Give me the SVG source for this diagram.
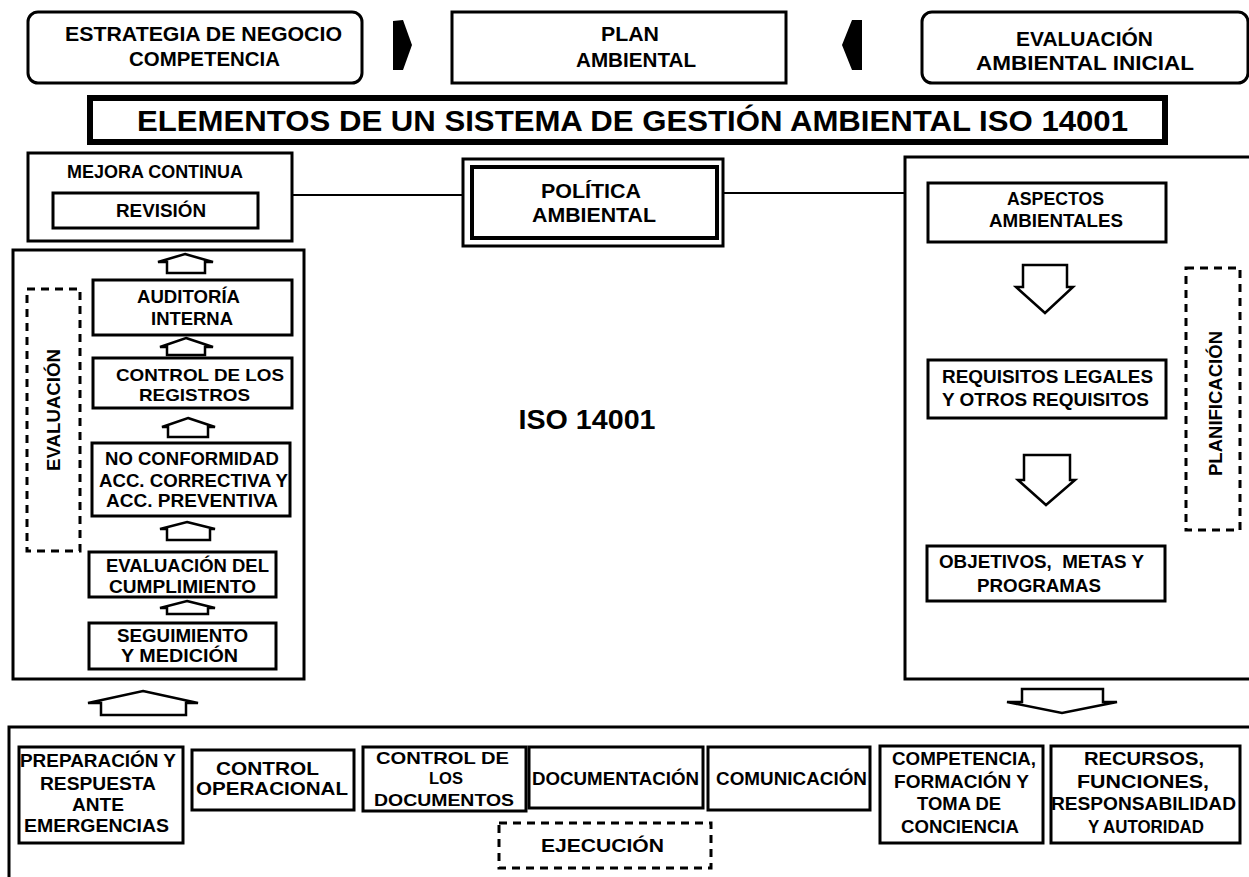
<svg xmlns="http://www.w3.org/2000/svg" width="1249" height="877" viewBox="0 0 1249 877">
<style>
.b{fill:#fff;stroke:#000;stroke-width:3}
.tb{fill:none;stroke:#000;stroke-width:6}
.d{fill:none;stroke:#000;stroke-width:3;stroke-dasharray:8 6}
.t{font-family:"Liberation Sans",Arial,sans-serif;font-weight:bold;font-size:17.5px;text-anchor:middle;fill:#000}
.tl{font-size:19.5px}
.arr{fill:#fff;stroke:#000;stroke-width:2.5;stroke-linejoin:miter}
.ln{stroke:#000;stroke-width:2;fill:none}
</style>
<rect width="1249" height="877" fill="#fff"/>

<g id="containers">
  <rect id="mejora-continua" class="b" x="28" y="153" width="264" height="88"/>
  <rect id="evaluacion-panel" class="b" x="13" y="250" width="291" height="429"/>
  <rect id="planificacion-panel" class="b" x="905" y="157" width="400" height="522"/>
  <rect id="ejecucion-panel" class="b" x="9" y="727" width="1300" height="200"/>
</g>

<g id="connectors">
  <line class="ln" x1="292" y1="195" x2="463" y2="195"/>
  <line class="ln" x1="723" y1="193" x2="905" y2="193"/>
  <path d="M393,21 L403,20 L412,45 L403,70 L393,70 Z" fill="#000"/>
  <path d="M862,20 L852,20 L842,45 L852,70 L862,70 Z" fill="#000"/>
  <path class="arr" d="M185,254 L213,262 L205,262 L205,273 L167,273 L167,262 L158,262 Z"/>
  <path class="arr" d="M186,338 L213,347 L205,347 L205,355 L167,355 L167,347 L160,347 Z"/>
  <path class="arr" d="M188,418 L215,427 L208,427 L208,437 L168,437 L168,427 L162,427 Z"/>
  <path class="arr" d="M187,522 L215,529 L210,529 L210,540 L167,540 L167,529 L160,529 Z"/>
  <path class="arr" d="M187,601 L215,608 L208,608 L208,614 L167,614 L167,608 L160,608 Z"/>
  <path class="arr" d="M143,691 L198,703 L186,703 L186,715 L101,715 L101,703 L88,703 Z"/>
  <path class="arr" d="M1023,265 L1067,265 L1067,287 L1073,287 L1045,313 L1016,287 L1023,287 Z"/>
  <path class="arr" d="M1024,455 L1070,455 L1070,480 L1075,480 L1046,505 L1018,480 L1024,480 Z"/>
  <path class="arr" d="M1022,689 L1103,689 L1103,702 L1117,702 L1062,713 L1007,702 L1022,702 Z"/>
</g>

<g id="estrategia">
  <rect class="b" x="28" y="12" width="334" height="71" rx="10"/>
  <text class="t tl" x="203.5" y="41" textLength="277" lengthAdjust="spacingAndGlyphs">ESTRATEGIA DE NEGOCIO</text>
  <text class="t tl" x="204.5" y="66" textLength="151" lengthAdjust="spacingAndGlyphs">COMPETENCIA</text>
</g>
<g id="plan-ambiental">
  <rect class="b" x="452" y="12" width="334" height="71"/>
  <text class="t tl" x="630" y="41" textLength="58" lengthAdjust="spacingAndGlyphs">PLAN</text>
  <text class="t tl" x="636" y="67" textLength="120" lengthAdjust="spacingAndGlyphs">AMBIENTAL</text>
</g>
<g id="evaluacion-inicial">
  <rect class="b" x="922" y="12" width="326" height="71" rx="10"/>
  <text class="t tl" x="1084.5" y="46" textLength="137" lengthAdjust="spacingAndGlyphs">EVALUACIÓN</text>
  <text class="t tl" x="1085" y="70" textLength="218" lengthAdjust="spacingAndGlyphs">AMBIENTAL INICIAL</text>
</g>

<g id="titulo">
  <rect class="tb" x="90" y="98" width="1075" height="44"/>
  <text class="t" style="font-size:29px" x="632.5" y="131" textLength="991" lengthAdjust="spacingAndGlyphs">ELEMENTOS DE UN SISTEMA DE GESTIÓN AMBIENTAL ISO 14001</text>
</g>

<g id="mejora-label">
  <text class="t" x="155" y="178" textLength="176" lengthAdjust="spacingAndGlyphs">MEJORA CONTINUA</text>
</g>
<g id="revision">
  <rect class="b" x="53" y="193" width="205" height="35"/>
  <text class="t" x="161" y="217" textLength="90" lengthAdjust="spacingAndGlyphs">REVISIÓN</text>
</g>

<g id="politica">
  <rect class="b" x="463" y="159" width="260" height="87"/>
  <rect fill="none" stroke="#000" stroke-width="4" x="472" y="167" width="245" height="71"/>
  <text class="t" style="font-size:20px" x="591" y="198" textLength="100" lengthAdjust="spacingAndGlyphs">POLÍTICA</text>
  <text class="t" style="font-size:20px" x="594" y="222" textLength="124" lengthAdjust="spacingAndGlyphs">AMBIENTAL</text>
</g>

<g id="auditoria">
  <rect class="b" x="93" y="280" width="199" height="55"/>
  <text class="t" x="188.5" y="303" textLength="103" lengthAdjust="spacingAndGlyphs">AUDITORÍA</text>
  <text class="t" x="192" y="325" textLength="82" lengthAdjust="spacingAndGlyphs">INTERNA</text>
</g>
<g id="control-registros">
  <rect class="b" x="93" y="358" width="199" height="50"/>
  <text class="t" style="font-size:17px" x="200" y="381" textLength="168" lengthAdjust="spacingAndGlyphs">CONTROL DE LOS</text>
  <text class="t" style="font-size:17px" x="194.5" y="401" textLength="111" lengthAdjust="spacingAndGlyphs">REGISTROS</text>
</g>
<g id="no-conformidad">
  <rect class="b" x="92" y="443" width="198" height="73"/>
  <text class="t" x="192" y="465" textLength="174" lengthAdjust="spacingAndGlyphs">NO CONFORMIDAD</text>
  <text class="t" x="193.5" y="487" textLength="189" lengthAdjust="spacingAndGlyphs">ACC. CORRECTIVA Y</text>
  <text class="t" x="192" y="507" textLength="172" lengthAdjust="spacingAndGlyphs">ACC. PREVENTIVA</text>
</g>
<g id="evaluacion-cumplimiento">
  <rect class="b" x="89" y="552" width="187" height="45"/>
  <text class="t" x="187.5" y="572" textLength="163" lengthAdjust="spacingAndGlyphs">EVALUACIÓN DEL</text>
  <text class="t" x="182.5" y="593" textLength="147" lengthAdjust="spacingAndGlyphs">CUMPLIMIENTO</text>
</g>
<g id="seguimiento">
  <rect class="b" x="89" y="623" width="187" height="46"/>
  <text class="t" x="182.5" y="642" textLength="131" lengthAdjust="spacingAndGlyphs">SEGUIMIENTO</text>
  <text class="t" x="179.5" y="662" textLength="117" lengthAdjust="spacingAndGlyphs">Y MEDICIÓN</text>
</g>
<g id="evaluacion-label">
  <rect class="d" x="27" y="289" width="53" height="262"/>
  <text class="t" transform="translate(60,410) rotate(-90)" x="0" y="0" textLength="122" lengthAdjust="spacingAndGlyphs">EVALUACIÓN</text>
</g>

<g id="iso">
  <text class="t" style="font-size:27px" x="587" y="429" textLength="137" lengthAdjust="spacingAndGlyphs">ISO 14001</text>
</g>

<g id="aspectos">
  <rect class="b" x="928" y="183" width="238" height="59"/>
  <text class="t" x="1055.5" y="205" textLength="97" lengthAdjust="spacingAndGlyphs">ASPECTOS</text>
  <text class="t" x="1056" y="227" textLength="134" lengthAdjust="spacingAndGlyphs">AMBIENTALES</text>
</g>
<g id="requisitos">
  <rect class="b" x="928" y="360" width="238" height="58"/>
  <text class="t" x="1047.5" y="383" textLength="211" lengthAdjust="spacingAndGlyphs">REQUISITOS LEGALES</text>
  <text class="t" x="1045.5" y="406" textLength="207" lengthAdjust="spacingAndGlyphs">Y OTROS REQUISITOS</text>
</g>
<g id="objetivos">
  <rect class="b" x="927" y="546" width="238" height="55"/>
  <text class="t" xml:space="preserve" x="1041.5" y="568" textLength="205" lengthAdjust="spacingAndGlyphs">OBJETIVOS,  METAS Y</text>
  <text class="t" x="1039" y="592" textLength="124" lengthAdjust="spacingAndGlyphs">PROGRAMAS</text>
</g>
<g id="planificacion-label">
  <rect class="d" x="1186" y="268" width="54" height="262"/>
  <text class="t" transform="translate(1222,403.5) rotate(-90)" x="0" y="0" textLength="145" lengthAdjust="spacingAndGlyphs">PLANIFICACIÓN</text>
</g>

<g id="preparacion">
  <rect class="b" x="19" y="747" width="164" height="96"/>
  <text class="t" x="98" y="767" textLength="156" lengthAdjust="spacingAndGlyphs">PREPARACIÓN Y</text>
  <text class="t" x="98" y="790" textLength="116" lengthAdjust="spacingAndGlyphs">RESPUESTA</text>
  <text class="t" x="98" y="811" textLength="52" lengthAdjust="spacingAndGlyphs">ANTE</text>
  <text class="t" x="96.5" y="832" textLength="145" lengthAdjust="spacingAndGlyphs">EMERGENCIAS</text>
</g>
<g id="control-operacional">
  <rect class="b" x="192" y="750" width="162" height="60"/>
  <text class="t" x="267.5" y="775" textLength="103" lengthAdjust="spacingAndGlyphs">CONTROL</text>
  <text class="t" x="272" y="795" textLength="152" lengthAdjust="spacingAndGlyphs">OPERACIONAL</text>
</g>
<g id="control-documentos">
  <rect class="b" x="363" y="747" width="163" height="64"/>
  <text class="t" style="font-size:17px" x="442.5" y="764" textLength="133" lengthAdjust="spacingAndGlyphs">CONTROL DE</text>
  <text class="t" style="font-size:17px" x="446" y="784" textLength="34" lengthAdjust="spacingAndGlyphs">LOS</text>
  <text class="t" style="font-size:17px" x="444" y="806" textLength="140" lengthAdjust="spacingAndGlyphs">DOCUMENTOS</text>
</g>
<g id="documentacion">
  <rect class="b" x="529" y="747" width="174" height="61"/>
  <text class="t" x="615.5" y="785" textLength="167" lengthAdjust="spacingAndGlyphs">DOCUMENTACIÓN</text>
</g>
<g id="comunicacion">
  <rect class="b" x="708" y="747" width="162" height="63"/>
  <text class="t" x="791.5" y="785" textLength="151" lengthAdjust="spacingAndGlyphs">COMUNICACIÓN</text>
</g>
<g id="competencia">
  <rect class="b" x="880" y="746" width="163" height="97"/>
  <text class="t" x="964" y="765" textLength="144" lengthAdjust="spacingAndGlyphs">COMPETENCIA,</text>
  <text class="t" x="961.5" y="788" textLength="135" lengthAdjust="spacingAndGlyphs">FORMACIÓN Y</text>
  <text class="t" x="959" y="810" textLength="84" lengthAdjust="spacingAndGlyphs">TOMA DE</text>
  <text class="t" x="960" y="833" textLength="118" lengthAdjust="spacingAndGlyphs">CONCIENCIA</text>
</g>
<g id="recursos">
  <rect class="b" x="1051" y="746" width="189" height="97"/>
  <text class="t" x="1144" y="765" textLength="120" lengthAdjust="spacingAndGlyphs">RECURSOS,</text>
  <text class="t" x="1143" y="788" textLength="132" lengthAdjust="spacingAndGlyphs">FUNCIONES,</text>
  <text class="t" x="1143.5" y="810" textLength="185" lengthAdjust="spacingAndGlyphs">RESPONSABILIDAD</text>
  <text class="t" x="1146" y="833" textLength="116" lengthAdjust="spacingAndGlyphs">Y AUTORIDAD</text>
</g>
<g id="ejecucion-label">
  <rect class="d" x="499" y="823" width="212" height="45"/>
  <text class="t" x="602.5" y="852" textLength="123" lengthAdjust="spacingAndGlyphs">EJECUCIÓN</text>
</g>
</svg>
